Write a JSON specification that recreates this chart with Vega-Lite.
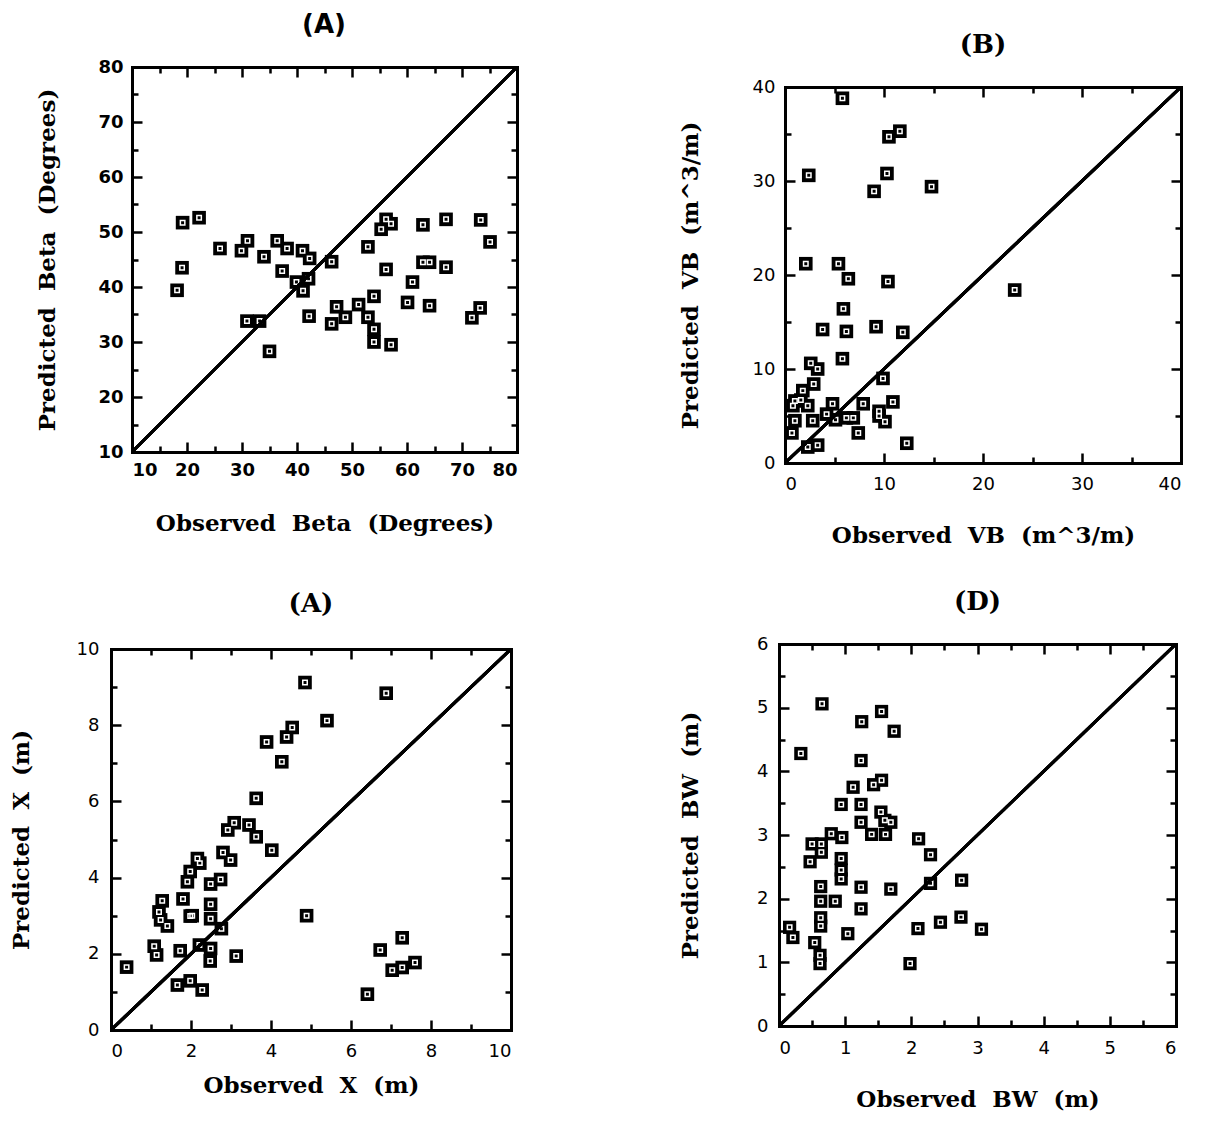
{
"$schema": "https://vega.github.io/schema/vega-lite/v6.json",
"background": "white",
"padding": {"left": 10, "top": 7, "right": 2, "bottom": 2},
"config": {
 "view": {"stroke": null},
 "axis": {"domain": false, "grid": false, "domainColor": "black", "domainWidth": 3, "domainCap": "square", "tickColor": "black", "tickWidth": 2.5, "labelColor": "black", "labelFont": "DejaVu Sans", "labelFontSize": 18, "titleColor": "black", "titleFont": "DejaVu Serif", "titleFontSize": 23, "titleFontWeight": "bold"},
 "title": {"color": "black", "font": "DejaVu Serif", "fontSize": 26, "fontWeight": "bold", "anchor": "middle"}
},
"datasets": {
 "a": [{"obs":18.2,"pred":39.4},{"obs":19.1,"pred":43.5},{"obs":19.2,"pred":51.7},{"obs":22.2,"pred":52.6},{"obs":26.0,"pred":47.0},{"obs":29.9,"pred":46.6},{"obs":31.0,"pred":48.4},{"obs":30.9,"pred":33.8},{"obs":33.2,"pred":33.8},{"obs":34.0,"pred":45.5},{"obs":35.0,"pred":28.3},{"obs":36.4,"pred":48.4},{"obs":37.3,"pred":42.9},{"obs":38.2,"pred":47.0},{"obs":39.9,"pred":40.9},{"obs":41.0,"pred":46.6},{"obs":41.1,"pred":39.3},{"obs":42.1,"pred":41.5},{"obs":42.3,"pred":45.2},{"obs":42.2,"pred":34.7},{"obs":46.3,"pred":44.6},{"obs":46.3,"pred":33.3},{"obs":47.2,"pred":36.4},{"obs":48.8,"pred":34.5},{"obs":51.2,"pred":36.8},{"obs":52.9,"pred":47.3},{"obs":52.9,"pred":34.5},{"obs":54.0,"pred":38.3},{"obs":54.0,"pred":32.3},{"obs":54.0,"pred":30.0},{"obs":55.3,"pred":50.5},{"obs":56.2,"pred":52.3},{"obs":57.1,"pred":51.5},{"obs":56.2,"pred":43.2},{"obs":57.1,"pred":29.5},{"obs":60.1,"pred":37.2},{"obs":61.0,"pred":40.9},{"obs":62.9,"pred":51.3},{"obs":62.9,"pred":44.5},{"obs":64.1,"pred":44.5},{"obs":64.1,"pred":36.6},{"obs":67.1,"pred":52.3},{"obs":67.1,"pred":43.6},{"obs":71.8,"pred":34.4},{"obs":73.3,"pred":36.2},{"obs":73.4,"pred":52.2},{"obs":75.1,"pred":48.2}],
 "b": [{"obs":5.8,"pred":38.8},{"obs":10.5,"pred":34.7},{"obs":11.6,"pred":35.3},{"obs":2.4,"pred":30.6},{"obs":10.3,"pred":30.8},{"obs":9.0,"pred":28.9},{"obs":14.8,"pred":29.4},{"obs":2.1,"pred":21.2},{"obs":5.4,"pred":21.2},{"obs":6.4,"pred":19.6},{"obs":10.4,"pred":19.3},{"obs":5.9,"pred":16.4},{"obs":3.8,"pred":14.2},{"obs":6.2,"pred":14.0},{"obs":9.2,"pred":14.5},{"obs":11.9,"pred":13.9},{"obs":5.8,"pred":11.1},{"obs":2.6,"pred":10.6},{"obs":3.3,"pred":10.0},{"obs":2.9,"pred":8.4},{"obs":9.9,"pred":9.0},{"obs":1.8,"pred":7.7},{"obs":1.0,"pred":6.6},{"obs":1.6,"pred":6.7},{"obs":2.3,"pred":6.1},{"obs":0.8,"pred":6.1},{"obs":4.8,"pred":6.3},{"obs":7.9,"pred":6.3},{"obs":10.9,"pred":6.5},{"obs":4.2,"pred":5.2},{"obs":9.5,"pred":5.5},{"obs":1.0,"pred":4.5},{"obs":2.8,"pred":4.5},{"obs":5.1,"pred":4.6},{"obs":6.2,"pred":4.8},{"obs":6.9,"pred":4.8},{"obs":9.5,"pred":5.0},{"obs":10.1,"pred":4.4},{"obs":7.4,"pred":3.2},{"obs":0.7,"pred":3.2},{"obs":2.3,"pred":1.7},{"obs":3.3,"pred":1.9},{"obs":12.3,"pred":2.1},{"obs":23.2,"pred":18.4}],
 "c": [{"obs":4.85,"pred":9.12},{"obs":4.53,"pred":7.94},{"obs":4.39,"pred":7.69},{"obs":3.89,"pred":7.56},{"obs":4.27,"pred":7.04},{"obs":3.63,"pred":6.08},{"obs":3.08,"pred":5.44},{"obs":2.92,"pred":5.25},{"obs":3.45,"pred":5.38},{"obs":3.63,"pred":5.07},{"obs":5.4,"pred":8.12},{"obs":6.88,"pred":8.84},{"obs":7.28,"pred":2.42},{"obs":6.73,"pred":2.1},{"obs":7.03,"pred":1.57},{"obs":7.28,"pred":1.64},{"obs":7.6,"pred":1.77},{"obs":6.41,"pred":0.94},{"obs":4.02,"pred":4.72},{"obs":2.8,"pred":4.66},{"obs":2.99,"pred":4.46},{"obs":2.22,"pred":4.38},{"obs":2.16,"pred":4.5},{"obs":1.98,"pred":4.16},{"obs":1.91,"pred":3.89},{"obs":2.49,"pred":3.83},{"obs":2.74,"pred":3.95},{"obs":1.28,"pred":3.39},{"obs":1.8,"pred":3.44},{"obs":2.49,"pred":3.3},{"obs":1.2,"pred":3.1},{"obs":1.24,"pred":2.89},{"obs":1.41,"pred":2.73},{"obs":1.98,"pred":2.99},{"obs":2.03,"pred":3.0},{"obs":2.49,"pred":2.92},{"obs":2.76,"pred":2.66},{"obs":1.08,"pred":2.2},{"obs":1.14,"pred":1.97},{"obs":1.73,"pred":2.08},{"obs":2.21,"pred":2.23},{"obs":2.49,"pred":2.14},{"obs":2.48,"pred":1.81},{"obs":3.13,"pred":1.94},{"obs":0.39,"pred":1.65},{"obs":1.66,"pred":1.18},{"obs":1.98,"pred":1.29},{"obs":2.28,"pred":1.05},{"obs":4.89,"pred":3.0}],
 "d": [{"obs":0.65,"pred":5.06},{"obs":1.55,"pred":4.94},{"obs":1.25,"pred":4.78},{"obs":1.74,"pred":4.63},{"obs":0.33,"pred":4.28},{"obs":1.24,"pred":4.17},{"obs":1.12,"pred":3.75},{"obs":1.43,"pred":3.79},{"obs":1.55,"pred":3.86},{"obs":0.94,"pred":3.48},{"obs":1.24,"pred":3.48},{"obs":1.54,"pred":3.36},{"obs":1.6,"pred":3.23},{"obs":1.69,"pred":3.2},{"obs":1.24,"pred":3.2},{"obs":0.79,"pred":3.02},{"obs":0.95,"pred":2.96},{"obs":1.4,"pred":3.01},{"obs":1.61,"pred":3.01},{"obs":2.11,"pred":2.94},{"obs":0.5,"pred":2.86},{"obs":0.64,"pred":2.86},{"obs":0.64,"pred":2.73},{"obs":0.47,"pred":2.58},{"obs":0.94,"pred":2.63},{"obs":0.94,"pred":2.45},{"obs":0.94,"pred":2.31},{"obs":2.29,"pred":2.69},{"obs":0.63,"pred":2.19},{"obs":1.24,"pred":2.18},{"obs":1.69,"pred":2.15},{"obs":2.29,"pred":2.24},{"obs":2.76,"pred":2.29},{"obs":0.63,"pred":1.96},{"obs":0.85,"pred":1.96},{"obs":1.24,"pred":1.84},{"obs":0.63,"pred":1.7},{"obs":0.63,"pred":1.57},{"obs":0.16,"pred":1.55},{"obs":0.21,"pred":1.39},{"obs":1.04,"pred":1.45},{"obs":2.1,"pred":1.53},{"obs":2.44,"pred":1.63},{"obs":2.75,"pred":1.71},{"obs":3.06,"pred":1.52},{"obs":0.54,"pred":1.31},{"obs":0.62,"pred":1.11},{"obs":0.62,"pred":0.98},{"obs":1.98,"pred":0.98}],
 "la": [{"obs":10,"pred":10},{"obs":80,"pred":80}],
 "lb": [{"obs":0,"pred":0},{"obs":40,"pred":40}],
 "lc": [{"obs":0,"pred":0},{"obs":10,"pred":10}],
 "ld": [{"obs":0,"pred":0},{"obs":6,"pred":6}]
},
"columns": 2,
"align": "none",
"spacing": {"row": 42, "column": 156},
"concat": [
  {"width": 406, "height": 385,
   "title": {"text": "(A)", "font": "DejaVu Sans", "fontSize": 26, "fontWeight": "bold", "offset": 20, "dx": 10},
   "resolve": {"axis": {"x": "independent", "y": "independent"}},
   "layer": [
    {"data": {"name": "a"}, "mark": {"type": "point", "shape": "square", "filled": true, "color": "black", "opacity": 1, "size": 185},
     "encoding": {
      "x": {"field": "obs", "type": "quantitative", "scale": {"domain": [10, 80], "nice": false, "zero": false, "range": [21, 406]}, "axis": {"orient": "bottom", "values": [10,20,30,40,50,60,70,80], "domain": true, "ticks": false, "labelPadding": 9, "labelFontWeight": "bold", "title": "Observed\u00a0\u00a0Beta\u00a0\u00a0(Degrees)", "titlePadding": 33}},
      "y": {"field": "pred", "type": "quantitative", "scale": {"domain": [10, 80], "nice": false, "zero": false}, "axis": {"orient": "left", "offset": -21, "values": [10,20,30,40,50,60,70,80], "domain": true, "ticks": false, "labelPadding": 9, "labelFontWeight": "bold", "title": "Predicted\u00a0\u00a0Beta\u00a0\u00a0(Degrees)", "titlePadding": 38}}
     }},
    {"data": {"name": "a"}, "mark": {"type": "point", "shape": "square", "filled": false, "stroke": "white", "strokeWidth": 1.5, "opacity": 1, "size": 20},
     "encoding": {
      "x": {"field": "obs", "type": "quantitative", "scale": {"domain": [10, 80], "nice": false, "zero": false, "range": [21, 406]}, "axis": {"orient": "bottom", "values": [10,20,30,40,50,60,70,80], "offset": -10, "tickSize": 10, "labels": false, "title": null}},
      "y": {"field": "pred", "type": "quantitative", "scale": {"domain": [10, 80], "nice": false, "zero": false}, "axis": {"orient": "left", "values": [10,20,30,40,50,60,70,80], "offset": -31, "tickSize": 10, "labels": false, "title": null}}
     }},
    {"data": {"name": "la"}, "mark": {"type": "line", "color": "black", "strokeWidth": 3},
     "encoding": {
      "x": {"field": "obs", "type": "quantitative", "scale": {"domain": [10, 80], "nice": false, "zero": false, "range": [21, 406]}, "axis": {"orient": "bottom", "values": [15,25,35,45,55,65,75], "offset": -6, "tickSize": 6, "labels": false, "title": null}},
      "y": {"field": "pred", "type": "quantitative", "scale": {"domain": [10, 80], "nice": false, "zero": false}, "axis": {"orient": "left", "values": [15,25,35,45,55,65,75], "offset": -27, "tickSize": 6, "labels": false, "title": null}}
     }},
    {"data": {"name": "la"}, "mark": {"type": "line", "color": "black", "strokeWidth": 3},
     "encoding": {
      "x": {"field": "obs", "type": "quantitative", "scale": {"domain": [10, 80], "nice": false, "zero": false, "range": [21, 406]}, "axis": {"orient": "top", "values": [10,20,30,40,50,60,70,80], "offset": -10, "tickSize": 10, "labels": false, "title": null}},
      "y": {"field": "pred", "type": "quantitative", "scale": {"domain": [10, 80], "nice": false, "zero": false}, "axis": {"orient": "right", "values": [10,20,30,40,50,60,70,80], "offset": -10, "tickSize": 10, "labels": false, "title": null}}
     }},
    {"data": {"name": "la"}, "mark": {"type": "line", "color": "black", "strokeWidth": 3},
     "encoding": {
      "x": {"field": "obs", "type": "quantitative", "scale": {"domain": [10, 80], "nice": false, "zero": false, "range": [21, 406]}, "axis": {"orient": "top", "values": [15,25,35,45,55,65,75], "offset": -6, "tickSize": 6, "labels": false, "title": null}},
      "y": {"field": "pred", "type": "quantitative", "scale": {"domain": [10, 80], "nice": false, "zero": false}, "axis": {"orient": "right", "values": [15,25,35,45,55,65,75], "offset": -6, "tickSize": 6, "labels": false, "title": null}}
     }},
    {"data": {"name": "la"}, "mark": {"type": "line", "color": "black", "strokeWidth": 3},
     "encoding": {
      "x": {"field": "obs", "type": "quantitative", "scale": {"domain": [10, 80], "nice": false, "zero": false, "range": [21, 406]}, "axis": {"orient": "top", "domain": true, "ticks": false, "labels": false, "title": null}},
      "y": {"field": "pred", "type": "quantitative", "scale": {"domain": [10, 80], "nice": false, "zero": false}, "axis": {"orient": "right", "domain": true, "ticks": false, "labels": false, "title": null}}
     }}
   ]},
  {"width": 396, "height": 396,
   "title": {"text": "(B)", "offset": -51},
   "resolve": {"axis": {"x": "independent", "y": "independent"}},
   "layer": [
    {"data": {"name": "b"}, "mark": {"type": "point", "shape": "square", "filled": true, "color": "black", "opacity": 1, "size": 185},
     "encoding": {
      "x": {"field": "obs", "type": "quantitative", "scale": {"domain": [0, 40], "nice": false, "zero": false}, "axis": {"orient": "bottom", "values": [0,10,20,30,40], "domain": true, "ticks": false, "labelPadding": 12, "title": "Observed\u00a0\u00a0VB\u00a0\u00a0(m^3/m)", "titlePadding": 31}},
      "y": {"field": "pred", "type": "quantitative", "scale": {"domain": [0, 40], "nice": false, "zero": false, "range": [396, 20]}, "axis": {"orient": "left", "values": [0,10,20,30,40], "domain": true, "ticks": false, "labelPadding": 10, "title": "Predicted\u00a0\u00a0VB\u00a0\u00a0(m^3/m)", "titlePadding": 50}}
     }},
    {"data": {"name": "b"}, "mark": {"type": "point", "shape": "square", "filled": false, "stroke": "white", "strokeWidth": 1.5, "opacity": 1, "size": 20},
     "encoding": {
      "x": {"field": "obs", "type": "quantitative", "scale": {"domain": [0, 40], "nice": false, "zero": false}, "axis": {"orient": "bottom", "values": [0,10,20,30,40], "offset": -10, "tickSize": 10, "labels": false, "title": null}},
      "y": {"field": "pred", "type": "quantitative", "scale": {"domain": [0, 40], "nice": false, "zero": false, "range": [396, 20]}, "axis": {"orient": "left", "values": [0,10,20,30,40], "offset": -10, "tickSize": 10, "labels": false, "title": null}}
     }},
    {"data": {"name": "lb"}, "mark": {"type": "line", "color": "black", "strokeWidth": 3},
     "encoding": {
      "x": {"field": "obs", "type": "quantitative", "scale": {"domain": [0, 40], "nice": false, "zero": false}, "axis": {"orient": "bottom", "values": [5,15,25,35], "offset": -6, "tickSize": 6, "labels": false, "title": null}},
      "y": {"field": "pred", "type": "quantitative", "scale": {"domain": [0, 40], "nice": false, "zero": false, "range": [396, 20]}, "axis": {"orient": "left", "values": [5,15,25,35], "offset": -6, "tickSize": 6, "labels": false, "title": null}}
     }},
    {"data": {"name": "lb"}, "mark": {"type": "line", "color": "black", "strokeWidth": 3},
     "encoding": {
      "x": {"field": "obs", "type": "quantitative", "scale": {"domain": [0, 40], "nice": false, "zero": false}, "axis": {"orient": "top", "values": [0,10,20,30,40], "offset": -30, "tickSize": 10, "labels": false, "title": null}},
      "y": {"field": "pred", "type": "quantitative", "scale": {"domain": [0, 40], "nice": false, "zero": false, "range": [396, 20]}, "axis": {"orient": "right", "values": [0,10,20,30,40], "offset": -10, "tickSize": 10, "labels": false, "title": null}}
     }},
    {"data": {"name": "lb"}, "mark": {"type": "line", "color": "black", "strokeWidth": 3},
     "encoding": {
      "x": {"field": "obs", "type": "quantitative", "scale": {"domain": [0, 40], "nice": false, "zero": false}, "axis": {"orient": "top", "values": [5,15,25,35], "offset": -26, "tickSize": 6, "labels": false, "title": null}},
      "y": {"field": "pred", "type": "quantitative", "scale": {"domain": [0, 40], "nice": false, "zero": false, "range": [396, 20]}, "axis": {"orient": "right", "values": [5,15,25,35], "offset": -6, "tickSize": 6, "labels": false, "title": null}}
     }},
    {"data": {"name": "lb"}, "mark": {"type": "line", "color": "black", "strokeWidth": 3},
     "encoding": {
      "x": {"field": "obs", "type": "quantitative", "scale": {"domain": [0, 40], "nice": false, "zero": false}, "axis": {"orient": "top", "offset": -20, "domain": true, "ticks": false, "labels": false, "title": null}},
      "y": {"field": "pred", "type": "quantitative", "scale": {"domain": [0, 40], "nice": false, "zero": false, "range": [396, 20]}, "axis": {"orient": "right", "domain": true, "ticks": false, "labels": false, "title": null}}
     }},
    {"data": {"name": "lb"}, "mark": {"type": "line", "color": "black", "strokeWidth": 3},
     "encoding": {
      "x": {"field": "obs", "type": "quantitative", "scale": {"domain": [0, 40], "nice": false, "zero": false}, "axis": {"orient": "top", "offset": 60, "domain": true, "domainColor": "white", "domainWidth": 1, "ticks": false, "labels": false, "title": null}},
      "y": {"field": "pred", "type": "quantitative", "scale": {"domain": [0, 40], "nice": false, "zero": false, "range": [396, 20]}, "axis": null}
     }}
   ]},
  {"width": 400, "height": 381,
   "title": {"text": "(A)", "offset": -28},
   "resolve": {"axis": {"x": "independent", "y": "independent"}},
   "layer": [
    {"data": {"name": "c"}, "mark": {"type": "point", "shape": "square", "filled": true, "color": "black", "opacity": 1, "size": 185},
     "encoding": {
      "x": {"field": "obs", "type": "quantitative", "scale": {"domain": [0, 10], "nice": false, "zero": false}, "axis": {"orient": "bottom", "values": [0,2,4,6,8,10], "domain": true, "ticks": false, "labelPadding": 12, "title": "Observed\u00a0\u00a0X\u00a0\u00a0(m)", "titlePadding": 14}},
      "y": {"field": "pred", "type": "quantitative", "scale": {"domain": [0, 10], "nice": false, "zero": false}, "axis": {"orient": "left", "values": [0,2,4,6,8,10], "domain": true, "ticks": false, "labelPadding": 12, "title": "Predicted\u00a0\u00a0X\u00a0\u00a0(m)", "titlePadding": 43}}
     }},
    {"data": {"name": "c"}, "mark": {"type": "point", "shape": "square", "filled": false, "stroke": "white", "strokeWidth": 1.5, "opacity": 1, "size": 20},
     "encoding": {
      "x": {"field": "obs", "type": "quantitative", "scale": {"domain": [0, 10], "nice": false, "zero": false}, "axis": {"orient": "bottom", "values": [0,2,4,6,8,10], "offset": -10, "tickSize": 10, "labels": false, "title": null}},
      "y": {"field": "pred", "type": "quantitative", "scale": {"domain": [0, 10], "nice": false, "zero": false}, "axis": {"orient": "left", "values": [0,2,4,6,8,10], "offset": -10, "tickSize": 10, "labels": false, "title": null}}
     }},
    {"data": {"name": "lc"}, "mark": {"type": "line", "color": "black", "strokeWidth": 3},
     "encoding": {
      "x": {"field": "obs", "type": "quantitative", "scale": {"domain": [0, 10], "nice": false, "zero": false}, "axis": {"orient": "bottom", "values": [1,3,5,7,9], "offset": -6, "tickSize": 6, "labels": false, "title": null}},
      "y": {"field": "pred", "type": "quantitative", "scale": {"domain": [0, 10], "nice": false, "zero": false}, "axis": {"orient": "left", "values": [1,3,5,7,9], "offset": -6, "tickSize": 6, "labels": false, "title": null}}
     }},
    {"data": {"name": "lc"}, "mark": {"type": "line", "color": "black", "strokeWidth": 3},
     "encoding": {
      "x": {"field": "obs", "type": "quantitative", "scale": {"domain": [0, 10], "nice": false, "zero": false}, "axis": {"orient": "top", "values": [0,2,4,6,8,10], "offset": -10, "tickSize": 10, "labels": false, "title": null}},
      "y": {"field": "pred", "type": "quantitative", "scale": {"domain": [0, 10], "nice": false, "zero": false}, "axis": {"orient": "right", "values": [0,2,4,6,8,10], "offset": -10, "tickSize": 10, "labels": false, "title": null}}
     }},
    {"data": {"name": "lc"}, "mark": {"type": "line", "color": "black", "strokeWidth": 3},
     "encoding": {
      "x": {"field": "obs", "type": "quantitative", "scale": {"domain": [0, 10], "nice": false, "zero": false}, "axis": {"orient": "top", "values": [1,3,5,7,9], "offset": -6, "tickSize": 6, "labels": false, "title": null}},
      "y": {"field": "pred", "type": "quantitative", "scale": {"domain": [0, 10], "nice": false, "zero": false}, "axis": {"orient": "right", "values": [1,3,5,7,9], "offset": -6, "tickSize": 6, "labels": false, "title": null}}
     }},
    {"data": {"name": "lc"}, "mark": {"type": "line", "color": "black", "strokeWidth": 3},
     "encoding": {
      "x": {"field": "obs", "type": "quantitative", "scale": {"domain": [0, 10], "nice": false, "zero": false}, "axis": {"orient": "top", "domain": true, "ticks": false, "labels": false, "title": null}},
      "y": {"field": "pred", "type": "quantitative", "scale": {"domain": [0, 10], "nice": false, "zero": false}, "axis": {"orient": "right", "domain": true, "ticks": false, "labels": false, "title": null}}
     }},
    {"data": {"name": "lc"}, "mark": {"type": "line", "color": "black", "strokeWidth": 3},
     "encoding": {
      "x": {"field": "obs", "type": "quantitative", "scale": {"domain": [0, 10], "nice": false, "zero": false}, "axis": {"orient": "top", "offset": 60, "domain": true, "domainColor": "white", "domainWidth": 1, "ticks": false, "labels": false, "title": null}},
      "y": {"field": "pred", "type": "quantitative", "scale": {"domain": [0, 10], "nice": false, "zero": false}, "axis": null}
     }}
   ]},
  {"width": 397, "height": 382,
   "title": {"text": "(D)", "offset": 20},
   "resolve": {"axis": {"x": "independent", "y": "independent"}},
   "layer": [
    {"data": {"name": "d"}, "mark": {"type": "point", "shape": "square", "filled": true, "color": "black", "opacity": 1, "size": 175},
     "encoding": {
      "x": {"field": "obs", "type": "quantitative", "scale": {"domain": [0, 6], "nice": false, "zero": false}, "axis": {"orient": "bottom", "values": [0,1,2,3,4,5,6], "domain": true, "ticks": false, "labelPadding": 13, "title": "Observed\u00a0\u00a0BW\u00a0\u00a0(m)", "titlePadding": 31}},
      "y": {"field": "pred", "type": "quantitative", "scale": {"domain": [0, 6], "nice": false, "zero": false}, "axis": {"orient": "left", "values": [0,1,2,3,4,5,6], "domain": true, "ticks": false, "labelPadding": 11, "title": "Predicted\u00a0\u00a0BW\u00a0\u00a0(m)", "titlePadding": 54}}
     }},
    {"data": {"name": "d"}, "mark": {"type": "point", "shape": "square", "filled": false, "stroke": "white", "strokeWidth": 1.5, "opacity": 1, "size": 20},
     "encoding": {
      "x": {"field": "obs", "type": "quantitative", "scale": {"domain": [0, 6], "nice": false, "zero": false}, "axis": {"orient": "bottom", "values": [0,1,2,3,4,5,6], "offset": -10, "tickSize": 10, "labels": false, "title": null}},
      "y": {"field": "pred", "type": "quantitative", "scale": {"domain": [0, 6], "nice": false, "zero": false}, "axis": {"orient": "left", "values": [0,1,2,3,4,5,6], "offset": -10, "tickSize": 10, "labels": false, "title": null}}
     }},
    {"data": {"name": "ld"}, "mark": {"type": "line", "color": "black", "strokeWidth": 3},
     "encoding": {
      "x": {"field": "obs", "type": "quantitative", "scale": {"domain": [0, 6], "nice": false, "zero": false}, "axis": {"orient": "bottom", "values": [0.5,1.5,2.5,3.5,4.5,5.5], "offset": -6, "tickSize": 6, "labels": false, "title": null}},
      "y": {"field": "pred", "type": "quantitative", "scale": {"domain": [0, 6], "nice": false, "zero": false}, "axis": {"orient": "left", "values": [0.5,1.5,2.5,3.5,4.5,5.5], "offset": -6, "tickSize": 6, "labels": false, "title": null}}
     }},
    {"data": {"name": "ld"}, "mark": {"type": "line", "color": "black", "strokeWidth": 3},
     "encoding": {
      "x": {"field": "obs", "type": "quantitative", "scale": {"domain": [0, 6], "nice": false, "zero": false}, "axis": {"orient": "top", "values": [0,1,2,3,4,5,6], "offset": -10, "tickSize": 10, "labels": false, "title": null}},
      "y": {"field": "pred", "type": "quantitative", "scale": {"domain": [0, 6], "nice": false, "zero": false}, "axis": {"orient": "right", "values": [0,1,2,3,4,5,6], "offset": -10, "tickSize": 10, "labels": false, "title": null}}
     }},
    {"data": {"name": "ld"}, "mark": {"type": "line", "color": "black", "strokeWidth": 3},
     "encoding": {
      "x": {"field": "obs", "type": "quantitative", "scale": {"domain": [0, 6], "nice": false, "zero": false}, "axis": {"orient": "top", "values": [0.5,1.5,2.5,3.5,4.5,5.5], "offset": -6, "tickSize": 6, "labels": false, "title": null}},
      "y": {"field": "pred", "type": "quantitative", "scale": {"domain": [0, 6], "nice": false, "zero": false}, "axis": {"orient": "right", "values": [0.5,1.5,2.5,3.5,4.5,5.5], "offset": -6, "tickSize": 6, "labels": false, "title": null}}
     }},
    {"data": {"name": "ld"}, "mark": {"type": "line", "color": "black", "strokeWidth": 3},
     "encoding": {
      "x": {"field": "obs", "type": "quantitative", "scale": {"domain": [0, 6], "nice": false, "zero": false}, "axis": {"orient": "top", "domain": true, "ticks": false, "labels": false, "title": null}},
      "y": {"field": "pred", "type": "quantitative", "scale": {"domain": [0, 6], "nice": false, "zero": false}, "axis": {"orient": "right", "domain": true, "ticks": false, "labels": false, "title": null}}
     }}
   ]}
]
}
